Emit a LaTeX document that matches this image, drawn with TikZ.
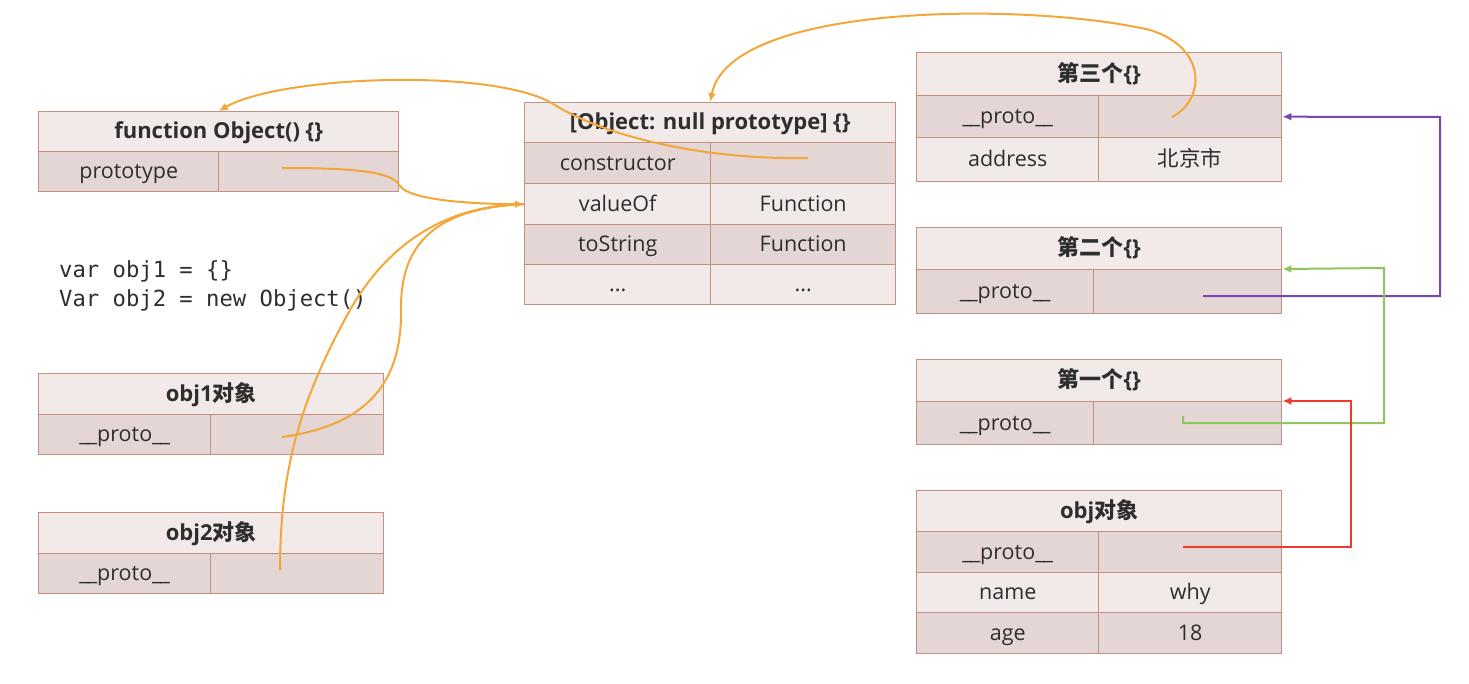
\documentclass[tikz,border=0pt]{standalone}
\usepackage{fontspec}
\setmainfont{Open Sans}
\newfontfamily\cjk{Noto Sans CJK SC}
\setmonofont{DejaVu Sans Mono}
\usetikzlibrary{arrows.meta}
\definecolor{bord}{HTML}{C4907F}
\definecolor{lightc}{HTML}{F1EAE8}
\definecolor{darkc}{HTML}{E3D6D4}
\definecolor{txt}{HTML}{2E2E2E}
\definecolor{orng}{HTML}{F3A73A}
\definecolor{purp}{HTML}{7A45B0}
\definecolor{grn}{HTML}{8DC65A}
\definecolor{redc}{HTML}{F23A2A}
\newcommand\pro{\_\kern-1.5pt\_proto\_\kern-1.5pt\_}
\tikzset{
  cell/.style={draw=bord, line width=1.4pt, inner sep=0pt, anchor=north west,
    text=txt, font=\fontsize{21.5}{25}\selectfont, text height=18pt, text depth=4pt},
  hd/.style={cell, fill=lightc, font=\fontsize{22}{25}\selectfont\bfseries},
  lt/.style={cell, fill=lightc},
  dk/.style={cell, fill=darkc},
  ol/.style={draw=orng, line width=2pt},
  oarr/.style={ol, -{Latex[length=9pt,width=8pt]}},
  sq/.style={line width=2pt, -{Latex[length=9pt,width=8pt]}},
}
\begin{document}
\begin{tikzpicture}[x=1pt,y=-1pt]
\useasboundingbox (0,0) rectangle (1469,683);
% function Object
\node[hd, minimum width=360, minimum height=40] (fo) at (38,111) {function Object() \{\}};
\node[dk, minimum width=180, minimum height=40] (fo-pl) at (38,151) {prototype};
\node[dk, minimum width=180, minimum height=40] (fo-pr) at (218,151) {};
% Object null prototype
\node[hd, minimum width=371, minimum height=40] (ob) at (524,102) {[Object: null prototype] \{\}};
\node[dk, minimum width=186, minimum height=41] (ob-cl) at (524,142) {constructor};
\node[dk, minimum width=185, minimum height=41] (ob-cr) at (710,142) {};
\node[lt, minimum width=186, minimum height=41] (ob-vl) at (524,183) {valueOf};
\node[lt, minimum width=185, minimum height=41] (ob-vr) at (710,183) {Function};
\node[dk, minimum width=186, minimum height=40] (ob-tl) at (524,224) {toString};
\node[dk, minimum width=185, minimum height=40] (ob-tr) at (710,224) {Function};
\node[lt, minimum width=186, minimum height=40] (ob-dl) at (524,264) {...};
\node[lt, minimum width=185, minimum height=40] (ob-dr) at (710,264) {...};
% code
\node[anchor=west, inner sep=0pt, align=left, text=txt, font=\ttfamily\fontsize{22.2}{29}\selectfont] (code) at (59,286)
  {var obj1 = \{\}\\Var obj2 = new Object()};
% obj1
\node[hd, minimum width=345, minimum height=41] (o1) at (38,373) {obj1{\cjk 对象}};
\node[dk, minimum width=172, minimum height=40] (o1-l) at (38,414) {\pro};
\node[dk, minimum width=173, minimum height=40] (o1-r) at (210,414) {};
% obj2
\node[hd, minimum width=345, minimum height=41] (o2) at (38,512) {obj2{\cjk 对象}};
\node[dk, minimum width=172, minimum height=40] (o2-l) at (38,553) {\pro};
\node[dk, minimum width=173, minimum height=40] (o2-r) at (210,553) {};
% third
\node[hd, minimum width=365, minimum height=43] (t3) at (916,52) {{\cjk 第三个}\{\}};
\node[dk, minimum width=182, minimum height=42] (t3-pl) at (916,95) {\pro};
\node[dk, minimum width=183, minimum height=42] (t3-pr) at (1098,95) {};
\node[lt, minimum width=182, minimum height=44] (t3-al) at (916,137) {address};
\node[lt, minimum width=183, minimum height=44] (t3-ar) at (1098,137) {{\cjk 北京市}};
% second
\node[hd, minimum width=365, minimum height=42] (t2) at (916,227) {{\cjk 第二个}\{\}};
\node[dk, minimum width=177, minimum height=44] (t2-pl) at (916,269) {\pro};
\node[dk, minimum width=188, minimum height=44] (t2-pr) at (1093,269) {};
% first
\node[hd, minimum width=365, minimum height=42] (t1) at (916,359) {{\cjk 第一个}\{\}};
\node[dk, minimum width=177, minimum height=43] (t1-pl) at (916,401) {\pro};
\node[dk, minimum width=188, minimum height=43] (t1-pr) at (1093,401) {};
% obj
\node[hd, minimum width=365, minimum height=41] (oo) at (916,490) {obj{\cjk 对象}};
\node[dk, minimum width=182, minimum height=41] (oo-pl) at (916,531) {\pro};
\node[dk, minimum width=183, minimum height=41] (oo-pr) at (1098,531) {};
\node[lt, minimum width=182, minimum height=40] (oo-nl) at (916,572) {name};
\node[lt, minimum width=183, minimum height=40] (oo-nr) at (1098,572) {why};
\node[dk, minimum width=182, minimum height=41] (oo-al) at (916,612) {age};
\node[dk, minimum width=183, minimum height=41] (oo-ar) at (1098,612) {18};
% connector start points
\coordinate (s-fo) at (282,168);
\coordinate (s-ob) at (808,158);
\coordinate (s-o1) at (282,437);
\coordinate (s-o2) at (280,570);
\coordinate (s-t3) at (1172,117);
\coordinate (s-t2) at (1203,296);
\coordinate (s-t1) at (1183,416);
\coordinate (s-oo) at (1183,547);
\coordinate (tgt) at (ob-vl.west);
% orange curves
\draw[oarr] (s-fo) .. controls (360,168) and (392,172) .. (400,186) .. controls (410,200) and (470,204) .. (tgt);
\draw[ol] (s-o1) .. controls (370,425) and (402,380) .. (401,310) .. controls (400,240) and (440,208) .. (tgt);
\draw[ol] (s-o2) .. controls (280,470) and (300,400) .. (350,310) .. controls (390,240) and (450,205) .. (tgt);
\draw[oarr] (s-ob) .. controls (700,160) and (600,135) .. (550,102) .. controls (485,68) and (280,76) .. (fo.north);
\draw[oarr] (s-t3) .. controls (1205,100) and (1208,48) .. (1150,30) .. controls (1030,2) and (730,2) .. (ob.north);
% square connectors
\draw[sq, purp] (s-t2) -- (1440,296) -- (1440,117) -- (t3-pr.east);
\draw[sq, grn] (s-t1) -- (1183,423) -- (1384,423) -- (1384,268) -- (t2-pr.north east);
\draw[sq, redc] (s-oo) -- (1351,547) -- (1351,401) -- (t1-pr.north east);
\end{tikzpicture}
\end{document}
